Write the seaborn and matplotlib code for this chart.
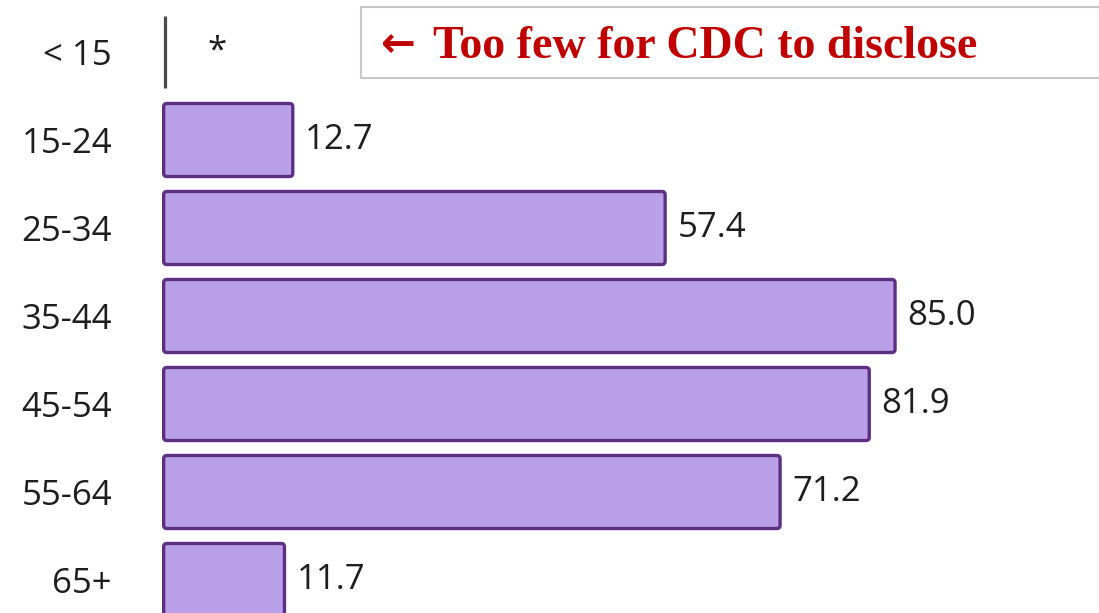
"""Rate by age group, horizontal bars with a disclosure note."""

import matplotlib

matplotlib.use("Agg")

import matplotlib.pyplot as plt
import numpy as np
import pandas as pd
import seaborn as sns
from matplotlib.patches import FancyBboxPatch, Rectangle

age_groups = ["< 15", "15-24", "25-34", "35-44", "45-54", "55-64", "65+"]
rates = [np.nan, 12.7, 57.4, 85.0, 81.9, 71.2, 11.7]
value_labels = ["*", "12.7", "57.4", "85.0", "81.9", "71.2", "11.7"]
note_arrow = "\u2190"
note_text = "Too few for CDC to disclose"

FILL = "#b9a0e8"
EDGE = "#5c2f82"
TEXT = "#1e1e1e"
BASE = -2.8  # bars start a little left of zero, like the source

df = pd.DataFrame({"age": age_groups, "rate": rates})

sns.set_theme(style="white")
plt.rcParams["font.family"] = ["Open Sans", "DejaVu Sans"]

fig = plt.figure(figsize=(10.99, 6.13), dpi=100)
ax = fig.add_axes([162 / 1099, 0, (1099 - 162) / 1099, 1])

sns.barplot(
    data=df,
    x="rate",
    y="age",
    order=age_groups,
    orient="h",
    color=FILL,
    saturation=1,
    width=0.83,
    errorbar=None,
    ax=ax,
)

# swap plain rectangles for slightly rounded ones starting at the baseline
for patch in list(ax.patches):
    x, y = patch.get_x(), patch.get_y()
    w, h = patch.get_width(), patch.get_height()
    patch.remove()
    if np.isnan(w):
        continue
    ax.add_patch(
        FancyBboxPatch(
            (BASE, y),
            w - BASE,
            h,
            boxstyle="round,pad=0,rounding_size=0.4",
            mutation_aspect=0.09,
            facecolor=FILL,
            edgecolor=EDGE,
            linewidth=2.4,
            clip_on=False,
        )
    )

# empty row gets only a thin baseline mark
for i, val in enumerate(rates):
    if np.isnan(val):
        ax.vlines(BASE + 0.2, i - 0.41, i + 0.41, color="#4a4a4a", linewidth=2.3)

for i, (val, lab) in enumerate(zip(rates, value_labels)):
    xv = 0 if np.isnan(val) else val
    ax.annotate(
        lab,
        xy=(xv, i),
        xytext=(9 if not np.isnan(val) else 15, 0),
        textcoords="offset points",
        va="center",
        ha="left",
        fontsize=25,
        color=TEXT,
    )

ax.set_xlim(-3.0, (1099 - 187) / 8.33)
ax.set_ylim((613 - 52) / 88, -52 / 88)
ax.set_xlabel("")
ax.set_ylabel("")
ax.set_xticks([])
ax.tick_params(axis="y", length=0, pad=36, labelsize=25, labelcolor=TEXT)
sns.despine(ax=ax, left=True, bottom=True)

# note box in the top right
fig.patches.append(
    Rectangle(
        (361 / 1099, 1 - 78 / 613),
        0.8,
        71 / 613,
        transform=fig.transFigure,
        facecolor="white",
        edgecolor="#c8c8c8",
        linewidth=1.5,
        zorder=5,
    )
)
fig.text(
    381 / 1099,
    1 - 57 / 613,
    note_arrow,
    fontsize=30,
    fontweight="bold",
    color="#c00000",
    family=["DejaVu Sans"],
    va="baseline",
    ha="left",
    zorder=6,
)
fig.text(
    433 / 1099,
    1 - 58 / 613,
    note_text,
    fontsize=33,
    fontweight="bold",
    color="#c00000",
    family=["Liberation Serif", "DejaVu Serif"],
    va="baseline",
    ha="left",
    zorder=6,
)

fig.savefig("out.png", dpi=100)
